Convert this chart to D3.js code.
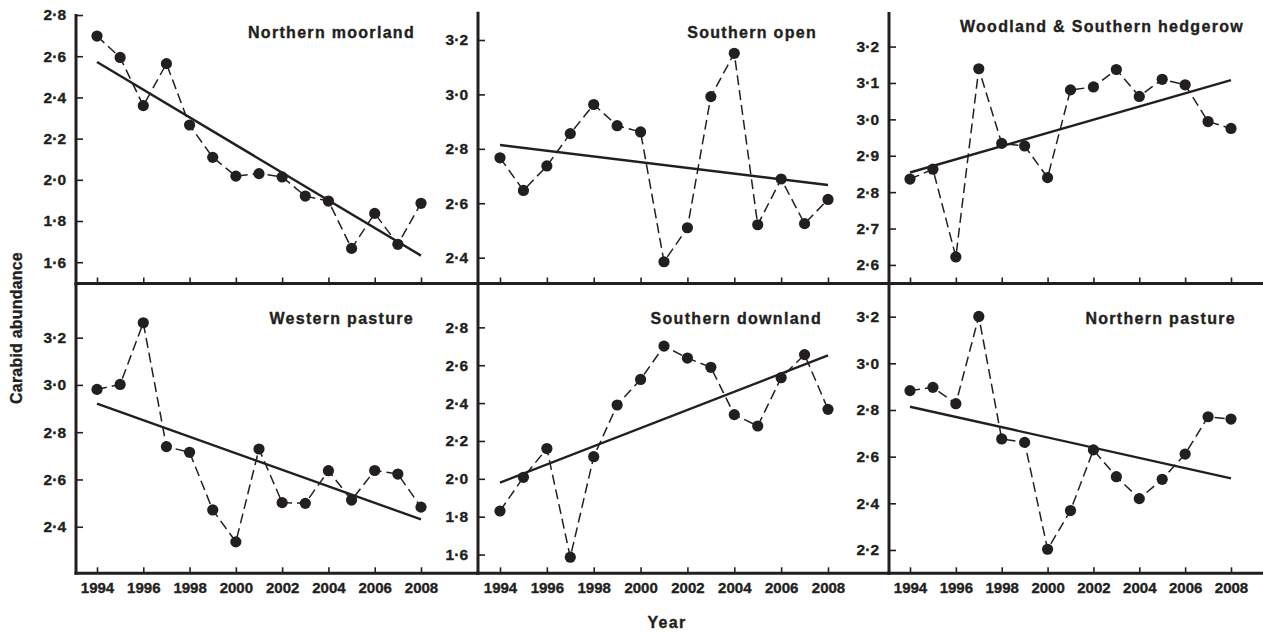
<!DOCTYPE html>
<html>
<head>
<meta charset="utf-8">
<script src="https://cdn.jsdelivr.net/npm/d3@7/dist/d3.min.js"></script>
<style>
  html, body { margin: 0; padding: 0; background: #fff; }
  svg { display: block; }
  text { font-family: "Liberation Sans", Arial, Helvetica, sans-serif; font-weight: bold; fill: #231f20; stroke: #231f20; stroke-width: 0.35px; }
</style>
</head>
<body>
<svg id="chart" width="1263" height="634"></svg>
<script>
// ---------------- DATA ----------------
const years = [1994, 1995, 1996, 1997, 1998, 1999, 2000, 2001, 2002, 2003, 2004, 2005, 2006, 2007, 2008];
const xTickYears = [1994, 1996, 1998, 2000, 2002, 2004, 2006, 2008];

const panelTitles = ["Northern moorland", "Southern open", "Woodland & Southern hedgerow",
                     "Western pasture", "Southern downland", "Northern pasture"];

const northernMoorland = [2.698, 2.594, 2.360, 2.564, 2.266, 2.109, 2.018, 2.030, 2.014, 1.921, 1.897, 1.667, 1.837, 1.687, 1.886];
const southernOpen     = [2.767, 2.647, 2.737, 2.856, 2.963, 2.885, 2.862, 2.385, 2.510, 2.992, 3.151, 2.521, 2.689, 2.525, 2.614];
const woodlandHedgerow = [2.836, 2.863, 2.622, 3.139, 2.934, 2.927, 2.840, 3.081, 3.089, 3.137, 3.063, 3.110, 3.095, 2.994, 2.975];
const westernPasture   = [2.981, 3.002, 3.263, 2.739, 2.715, 2.471, 2.336, 2.729, 2.502, 2.499, 2.637, 2.513, 2.638, 2.623, 2.483];
const southernDownland = [1.830, 2.008, 2.160, 1.586, 2.117, 2.390, 2.525, 2.701, 2.638, 2.589, 2.339, 2.279, 2.534, 2.656, 2.367];
const northernPasture  = [2.883, 2.897, 2.827, 3.201, 2.676, 2.661, 2.203, 2.369, 2.629, 2.514, 2.420, 2.503, 2.611, 2.771, 2.761];

// fitted trend line values at 1994 and 2008
const trend1994 = [2.572, 2.814, 2.854, 2.921, 1.980, 2.814];
const trend2008 = [1.632, 2.667, 3.108, 2.431, 2.652, 2.507];

// y tick values per panel
const yTicks1 = [1.6, 1.8, 2.0, 2.2, 2.4, 2.6, 2.8];
const yTicks2 = [2.4, 2.6, 2.8, 3.0, 3.2];
const yTicks3 = [2.6, 2.7, 2.8, 2.9, 3.0, 3.1, 3.2];
const yTicks4 = [2.4, 2.6, 2.8, 3.0, 3.2];
const yTicks5 = [1.6, 1.8, 2.0, 2.2, 2.4, 2.6, 2.8];
const yTicks6 = [2.2, 2.4, 2.6, 2.8, 3.0, 3.2];

// y axis extents per panel
const yDomain1 = [1.4966, 2.805];
const yDomain2 = [2.305, 3.304];
const yDomain3 = [2.549, 3.295];
const yDomain4 = [2.203, 3.427];
const yDomain5 = [1.501, 3.029];
const yDomain6 = [2.100, 3.340];

const yLabel = "Carabid abundance";
const xLabel = "Year";

// ---------------- LAYOUT ----------------
const INK = "#231f20";
const svg = d3.select("#chart");

const colAxisX = [76, 478, 889];
const colRightX = [478, 889, 1263];
const colYear0 = [97, 500, 910];
const colYear1 = [421, 828, 1231];
const rowBottom = [283.5, 573.3];

const series = [northernMoorland, southernOpen, woodlandHedgerow, westernPasture, southernDownland, northernPasture];
const yTicksAll = [yTicks1, yTicks2, yTicks3, yTicks4, yTicks5, yTicks6];
const yDomains = [yDomain1, yDomain2, yDomain3, yDomain4, yDomain5, yDomain6];
const rangeTops = [14, 11.7, 12, 284, 284, 284];
const titlePos = [[415, 37.5], [817, 37.5], [1244, 31.5], [414, 324], [822, 324], [1236, 324]];

const fmt = d => d.toFixed(1).replace(".", "\u00B7");

series.forEach((vals, i) => {
  const col = i % 3, row = Math.floor(i / 3);
  const bottom = rowBottom[row];
  const x = d3.scaleLinear().domain([years[0], years[years.length - 1]]).range([colYear0[col], colYear1[col]]);
  const y = d3.scaleLinear().domain(yDomains[i]).range([bottom, rangeTops[i]]);
  const g = svg.append("g");

  // y axis
  const yAxis = d3.axisLeft(y).tickValues(yTicksAll[i]).tickFormat(fmt).tickSizeInner(-7).tickSizeOuter(0).tickPadding(10);
  const ya = g.append("g").attr("transform", `translate(${colAxisX[col]},0)`).call(yAxis);
  ya.select(".domain").remove();
  ya.selectAll(".tick line").attr("stroke", INK).attr("stroke-width", 1.6);
  ya.selectAll(".tick text").attr("font-size", 15.5).attr("fill", INK);

  // x axis
  const xAxis = d3.axisBottom(x).tickValues(xTickYears).tickSizeInner(-6).tickSizeOuter(0).tickPadding(9)
    .tickFormat(row === 1 ? d3.format("d") : () => "");
  const xa = g.append("g").attr("transform", `translate(0,${bottom})`).call(xAxis);
  xa.select(".domain").remove();
  xa.selectAll(".tick line").attr("stroke", INK).attr("stroke-width", 1.6);
  xa.selectAll(".tick text").attr("font-size", 15).attr("fill", INK);

  // axis lines
  g.append("line").attr("x1", colAxisX[col]).attr("x2", colAxisX[col])
    .attr("y1", y.range()[1]).attr("y2", bottom + 1.5)
    .attr("stroke", INK).attr("stroke-width", 3);
  g.append("line").attr("x1", colAxisX[col] - 1.5).attr("x2", colRightX[col])
    .attr("y1", bottom).attr("y2", bottom)
    .attr("stroke", INK).attr("stroke-width", 3);

  // trend line
  g.append("line")
    .attr("x1", x(years[0])).attr("y1", y(trend1994[i]))
    .attr("x2", x(years[years.length - 1])).attr("y2", y(trend2008[i]))
    .attr("stroke", INK).attr("stroke-width", 2.4);

  // dashed connector
  const pts = years.map((yr, k) => [yr, vals[k]]);
  g.append("path").datum(pts)
    .attr("d", d3.line().x(d => x(d[0])).y(d => y(d[1])))
    .attr("fill", "none").attr("stroke", INK).attr("stroke-width", 1.5)
    .attr("stroke-dasharray", "10,5");

  // points
  g.selectAll("circle.pt").data(pts).enter().append("circle")
    .attr("cx", d => x(d[0])).attr("cy", d => y(d[1])).attr("r", 5.6)
    .attr("fill", INK);

  // title
  g.append("text").attr("x", titlePos[i][0]).attr("y", titlePos[i][1])
    .attr("text-anchor", "end").attr("font-size", 16).style("letter-spacing", "1.3px")
    .text(panelTitles[i]);
});

// axis titles
svg.append("text").attr("transform", "translate(22,328) rotate(-90)")
  .attr("text-anchor", "middle").attr("font-size", 16).style("letter-spacing", "0.2px")
  .text(yLabel);
svg.append("text").attr("x", 667).attr("y", 628)
  .attr("text-anchor", "middle").attr("font-size", 16).style("letter-spacing", "1.3px")
  .text(xLabel);
</script>
</body>
</html>
